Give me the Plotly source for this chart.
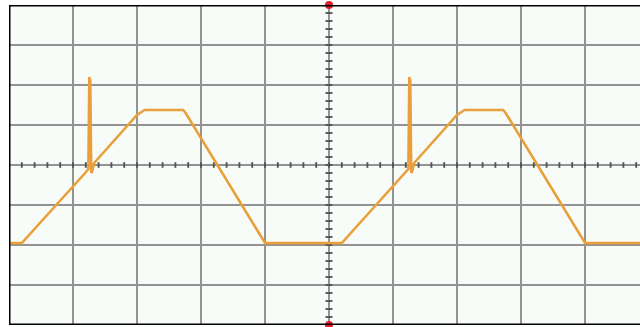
import numpy as np
import plotly.graph_objects as go

# Waveform, in screen divisions (x: time div, y: volt div)
time_div = [0.0, 0.2, 1.19, 1.24, 1.255, 1.27, 1.285, 1.30, 1.33, 2.0, 2.12, 2.72, 2.76, 4.0,
            5.2, 6.19, 6.24, 6.255, 6.27, 6.285, 6.30, 6.33, 7.0, 7.12, 7.72, 7.76, 9.0, 9.86]
volt_div = [-1.95, -1.95, -0.2, -0.1, 2.2, 2.1, -0.2, -0.15, 0.05, 1.25, 1.375, 1.375, 1.3, -1.95,
            -1.95, -0.2, -0.1, 2.2, 2.1, -0.2, -0.15, 0.05, 1.25, 1.375, 1.375, 1.3, -1.95, -1.95]

X_RANGE = [0, 631 / 64]
Y_RANGE = [-4, 4]
CENTER_X = 5
CENTER_Y = 0

fig = go.Figure()

# center graticule minor ticks
hx = np.arange(0.2, 10, 0.2)
fig.add_trace(go.Scatter(x=hx, y=[CENTER_Y] * len(hx), mode="markers",
                         marker=dict(symbol="line-ns", size=4, line=dict(color="#505050", width=1.8)),
                         hoverinfo="skip", showlegend=False))
vy = np.arange(-3.8, 4, 0.2)
fig.add_trace(go.Scatter(x=[CENTER_X] * len(vy), y=vy, mode="markers",
                         marker=dict(symbol="line-ew", size=5, line=dict(color="#505050", width=1.8)),
                         hoverinfo="skip", showlegend=False))

# waveform
fig.add_trace(go.Scatter(x=time_div, y=volt_div, mode="lines",
                         line=dict(color="#E9A03A", width=2.6),
                         hoverinfo="skip", showlegend=False))

# trigger markers
fig.add_trace(go.Scatter(x=[CENTER_X, CENTER_X], y=[Y_RANGE[1], Y_RANGE[0]], mode="markers",
                         marker=dict(symbol="circle", size=8, color="#e0202a"),
                         cliponaxis=False, hoverinfo="skip", showlegend=False))

border = dict(color="black", width=3)
fig.add_shape(type="line", x0=0, x1=0, y0=Y_RANGE[0], y1=Y_RANGE[1], xref="x", yref="y", line=border)
fig.add_shape(type="line", x0=0, x1=X_RANGE[1], y0=Y_RANGE[1], y1=Y_RANGE[1], xref="x", yref="y", line=border)
fig.add_shape(type="line", x0=0, x1=X_RANGE[1], y0=Y_RANGE[0], y1=Y_RANGE[0], xref="x", yref="y", line=border)

fig.update_xaxes(range=X_RANGE, dtick=1, tick0=0, showgrid=True, gridcolor="#939393", gridwidth=1.6,
                 zeroline=False, showticklabels=False, ticks="", fixedrange=True)
fig.update_yaxes(range=Y_RANGE, dtick=1, tick0=0, showgrid=True, gridcolor="#939393", gridwidth=1.6,
                 zeroline=False, showticklabels=False, ticks="", fixedrange=True)

fig.update_layout(width=640, height=327, margin=dict(l=9, r=0, t=5, b=2),
                  paper_bgcolor="white", plot_bgcolor="#f8fcf8")

fig.write_html("out.html", config={"staticPlot": True},
               post_script="document.body.style.margin='0';document.body.style.overflow='hidden';")
